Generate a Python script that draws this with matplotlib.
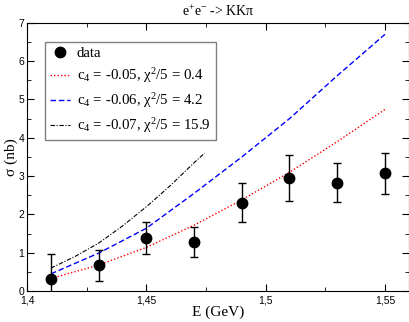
import numpy as np
import matplotlib
matplotlib.use('Agg')
import matplotlib.pyplot as plt
from matplotlib.ticker import MultipleLocator, FuncFormatter
from matplotlib.lines import Line2D

plt.rcParams['font.family'] = 'Liberation Serif'
plt.rcParams['mathtext.fontset'] = 'custom'
plt.rcParams['mathtext.rm'] = 'Liberation Serif'
plt.rcParams['mathtext.it'] = 'Liberation Serif'

# data points
E_data = [1.41, 1.43, 1.45, 1.47, 1.49, 1.51, 1.53, 1.55]
sig_data = [0.31, 0.67, 1.39, 1.27, 2.31, 2.96, 2.83, 3.07]
sig_err = [0.66, 0.40, 0.42, 0.39, 0.50, 0.60, 0.50, 0.54]

# model curves
E_curve = [1.41, 1.43, 1.45, 1.47, 1.49, 1.51, 1.53, 1.55]
sig_c05 = [0.33, 0.68, 1.14, 1.72, 2.38, 3.10, 3.90, 4.74]
sig_c06 = [0.45, 0.99, 1.64, 2.55, 3.50, 4.50, 5.62, 6.70]
E_c07 = [1.41, 1.42, 1.43, 1.44, 1.45, 1.46, 1.47, 1.4744]
sig_c07 = [0.60, 0.90, 1.25, 1.70, 2.20, 2.75, 3.35, 3.60]

fig = plt.figure(figsize=(4.1, 3.22), dpi=100)
ax = fig.add_axes([0.066, 0.096, 0.931, 0.833])

l1, = ax.plot(E_curve, sig_c05, color='red', ls=(0, (1, 1.5)), lw=1)
l2, = ax.plot(E_curve, sig_c06, color='blue', ls=(0, (4, 2)), lw=1)
l3, = ax.plot(E_c07, sig_c07, color='black', ls=(0, (4, 1.5, 1, 1.5)), lw=0.8)
ax.errorbar(E_data, sig_data, yerr=sig_err, fmt='o', color='black',
            ms=7.5, capsize=3, elinewidth=1, capthick=1)
pts = Line2D([], [], ls='none', marker='o', color='black', ms=7.5)

ax.set_xlim(1.4, 1.56)
ax.set_ylim(0, 7)
ax.xaxis.set_major_locator(MultipleLocator(0.05))
ax.xaxis.set_minor_locator(MultipleLocator(0.025))
ax.yaxis.set_major_locator(MultipleLocator(1))
ax.yaxis.set_minor_locator(MultipleLocator(0.5))
ax.xaxis.set_major_formatter(FuncFormatter(lambda v, p: ('%g' % round(v, 3)).replace('.', ',')))
ax.tick_params(which='both', direction='in', top=True, right=True, labelsize=7.5)
ax.tick_params(axis='x', pad=3)
ax.tick_params(axis='y', pad=2)
ax.tick_params(which='major', length=5)
ax.tick_params(which='minor', length=3)
for t in ax.get_xticklabels() + ax.get_yticklabels():
    t.set_family('Liberation Sans')

ax.set_xlabel('E (GeV)', fontsize=11, labelpad=0)
ax.set_ylabel('σ (nb)', fontsize=11, labelpad=0)
ax.set_title('e$^{+}$e$^{-}$ -> KKπ', fontsize=10, pad=5)

leg = ax.legend([pts, l1, l2, l3],
                ['data',
                 'c$_4$ = -0.05, χ$^2$/5 = 0.4',
                 'c$_4$ = -0.06, χ$^2$/5 = 4.2',
                 'c$_4$ = -0.07, χ$^2$/5 = 15.9'],
                loc='upper left', bbox_to_anchor=(0.047, 0.93), fontsize=10.7,
                fancybox=False, framealpha=1, edgecolor='gray',
                handlelength=1.3, handletextpad=0.5, borderpad=0.35, labelspacing=0.4,
                borderaxespad=0)
leg.get_frame().set_linewidth(1)

fig.savefig('out.png', dpi=100)
